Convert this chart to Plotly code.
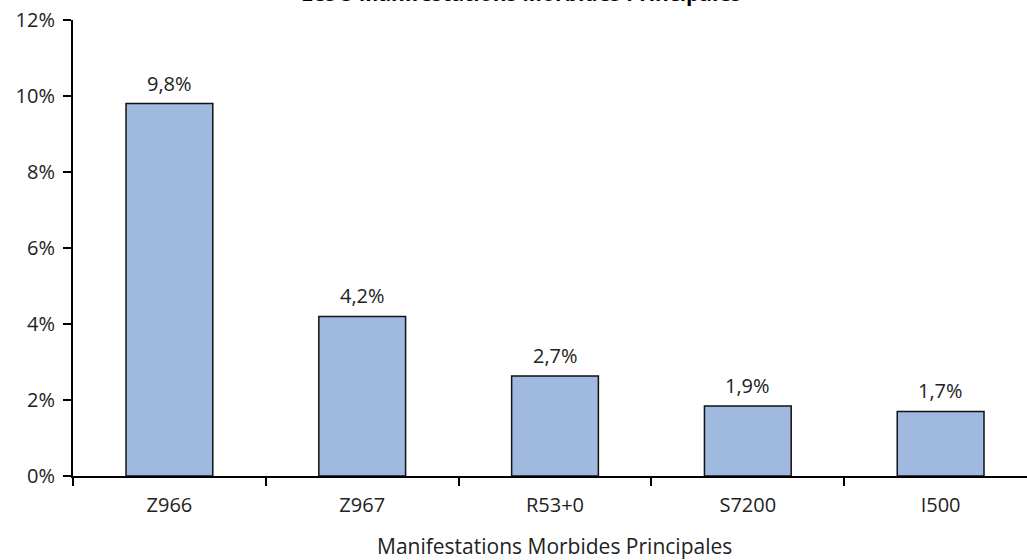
import plotly.graph_objects as go

categories = ["Z966", "Z967", "R53+0", "S7200", "I500"]
values = [9.8, 4.2, 2.63, 1.84, 1.7]
labels = ["9,8%", "4,2%", "2,7%", "1,9%", "1,7%"]
y_ticks = [0, 2, 4, 6, 8, 10, 12]
y_tick_text = ["0%", "2%", "4%", "6%", "8%", "10%", "12%"]
title_text = "Les 5 Manifestations Morbides Principales"
x_title = "Manifestations Morbides Principales"

FONT = "Open Sans, Segoe UI, sans-serif"

fig = go.Figure(go.Bar(
    x=categories, y=values,
    marker=dict(color="#A0B9DF", line=dict(color="#111", width=1.5)),
    width=0.45, hoverinfo="x+y",
))

label_annotations = [
    dict(x=c, y=v, text=t, xref="x", yref="y", yanchor="bottom", yshift=5,
         showarrow=False, font=dict(size=20, family=FONT, color="#222"))
    for c, v, t in zip(categories, values, labels)
]

fig.update_layout(
    width=1027, height=560,
    margin=dict(l=73, r=0, t=20, b=84),
    plot_bgcolor="white", paper_bgcolor="white",
    showlegend=False,
    font=dict(family=FONT, size=20, color="#222"),
    xaxis=dict(
        range=[-0.5, 4.448], showline=True, linecolor="#000", linewidth=2,
        ticks="outside", tickson="boundaries", ticklen=8, tickwidth=1.5, tickcolor="#000",
        showgrid=False, tickfont=dict(size=20), ticklabelstandoff=10,
    ),
    yaxis=dict(
        range=[0, 12], tickvals=y_ticks, ticktext=y_tick_text,
        showline=True, linecolor="#000", linewidth=2,
        ticks="outside", ticklen=8, tickwidth=1.5, tickcolor="#000",
        showgrid=False, zeroline=False, tickfont=dict(size=20), ticklabelstandoff=4,
    ),
    annotations=label_annotations + [
        dict(text=x_title, xref="paper", yref="paper", x=0.505, y=0, yanchor="top",
             yshift=-54, showarrow=False, font=dict(size=21, family=FONT, color="#222")),
        dict(text="<b>" + title_text + "</b>", xref="paper", yref="paper", x=0.47, y=1,
             yanchor="bottom", yshift=11, showarrow=False,
             font=dict(size=21, family=FONT, color="#000")),
    ],
)

fig.write_html("out.html", config={"displayModeBar": False},
               post_script="document.body.style.margin='0';")
